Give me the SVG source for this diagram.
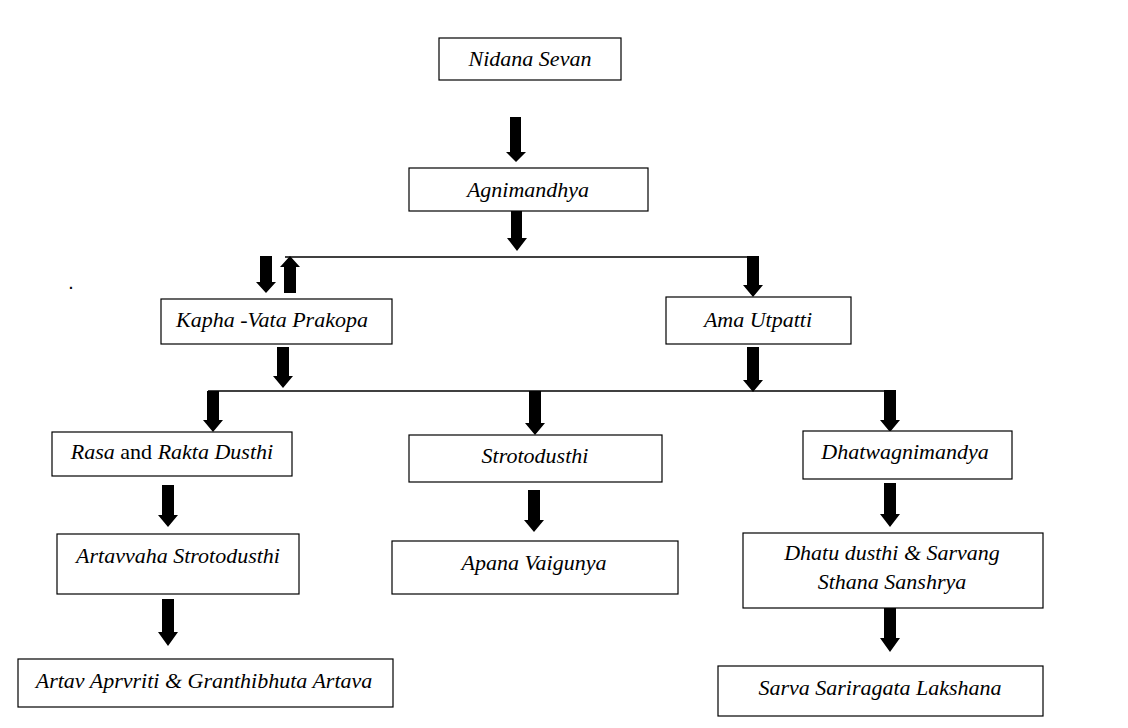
<svg xmlns="http://www.w3.org/2000/svg" width="1128" height="728" viewBox="0 0 1128 728">
<style>
.box{fill:#fff;stroke:#000;stroke-width:1.2}
.t{font-family:"Liberation Serif","DejaVu Serif",serif;font-style:italic;font-size:22px;fill:#000;text-anchor:middle}
.n{font-style:normal}
.arr{fill:#000}
.ln{stroke:#000;stroke-width:1.3;fill:none}
</style>
<rect width="1128" height="728" fill="#fff"/>
<g id="connectors">
<line class="ln" x1="285" y1="257" x2="753" y2="257"/>
<line class="ln" x1="208" y1="391" x2="893" y2="391"/>
<polygon class="arr" points="510,117 521,117 521,152 526,152 516,162 506,152 510,152"/>
<polygon class="arr" points="511,211 522,211 522,238 527,238 517,251 507,238 511,238"/>
<polygon class="arr" points="260,256 272,256 272,282 276,282 266,293 256,282 260,282"/>
<polygon class="arr" points="284,293 296,293 296,267 300,267 290,256 280,267 284,267"/>
<polygon class="arr" points="747,256 759,256 759,285 763,285 753,297 743,285 747,285"/>
<polygon class="arr" points="277,347 289,347 289,376 293,376 283,388 273,376 277,376"/>
<polygon class="arr" points="747,347 759,347 759,380 763,380 753,392 743,380 747,380"/>
<polygon class="arr" points="207,391 219,391 219,420 223,420 213,432 203,420 207,420"/>
<polygon class="arr" points="529,391 541,391 541,423 545,423 535,435 525,423 529,423"/>
<polygon class="arr" points="884,390 896,390 896,420 900,420 890,432 880,420 884,420"/>
<polygon class="arr" points="162,485 174,485 174,515 178,515 168,527 158,515 162,515"/>
<polygon class="arr" points="162,599 174,599 174,632 178,632 168,646 158,632 162,632"/>
<polygon class="arr" points="528,490 540,490 540,520 544,520 534,532 524,520 528,520"/>
<polygon class="arr" points="884,483 896,483 896,514 900,514 890,527 880,514 884,514"/>
<polygon class="arr" points="884,607 896,607 896,638 900,638 890,652 880,638 884,638"/>
</g>
<g id="n1"><rect class="box" x="439" y="38" width="182" height="42"/><text class="t" x="530" y="66">Nidana Sevan</text></g>
<g id="n2"><rect class="box" x="409" y="168" width="239" height="43"/><text class="t" x="528" y="197">Agnimandhya</text></g>
<g id="n3"><rect class="box" x="161" y="299" width="231" height="45"/><text class="t" x="272" y="327">Kapha -Vata Prakopa</text></g>
<g id="n4"><rect class="box" x="666" y="297" width="185" height="47"/><text class="t" x="758" y="327">Ama Utpatti</text></g>
<g id="n5"><rect class="box" x="52" y="432" width="240" height="44"/><text class="t" x="172" y="459">Rasa <tspan class="n">and</tspan> Rakta Dusthi</text></g>
<g id="n6"><rect class="box" x="409" y="435" width="253" height="47"/><text class="t" x="535" y="463">Strotodusthi</text></g>
<g id="n7"><rect class="box" x="803" y="431" width="209" height="48"/><text class="t" x="905" y="459">Dhatwagnimandya</text></g>
<g id="n8"><rect class="box" x="57" y="534" width="242" height="60"/><text class="t" x="178" y="563">Artavvaha Strotodusthi</text></g>
<g id="n9"><rect class="box" x="392" y="541" width="286" height="53"/><text class="t" x="534" y="570">Apana Vaigunya</text></g>
<g id="n10"><rect class="box" x="743" y="533" width="300" height="75"/><text class="t" x="892" y="560">Dhatu dusthi &amp; Sarvang</text><text class="t" x="892" y="589">Sthana Sanshrya</text></g>
<g id="n11"><rect class="box" x="18" y="659" width="375" height="48"/><text class="t" x="204" y="688">Artav Aprvriti &amp; Granthibhuta Artava</text></g>
<g id="n12"><rect class="box" x="718" y="666" width="325" height="50"/><text class="t" x="880" y="695">Sarva Sariragata Lakshana</text></g>
<text x="71" y="289" font-family="Liberation Sans,sans-serif" font-size="14" font-weight="bold" text-anchor="middle">.</text>
</svg>
